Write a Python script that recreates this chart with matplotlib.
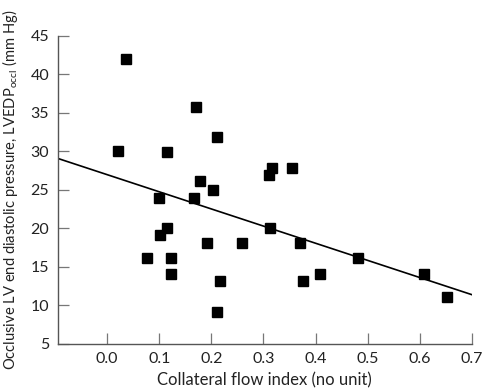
import numpy as np
import matplotlib
matplotlib.use("Agg")
import matplotlib.pyplot as plt

# collateral flow index vs occlusive LVEDP
cfi = [0.037, 0.020, 0.171, 0.210, 0.115, 0.316, 0.355, 0.311, 0.179, 0.204,
       0.166, 0.099, 0.114, 0.313, 0.102, 0.191, 0.258, 0.370, 0.077, 0.122,
       0.481, 0.122, 0.409, 0.608, 0.217, 0.376, 0.652, 0.210]
lvedp = [42.0, 30.0, 35.8, 31.9, 29.9, 27.9, 27.9, 26.9, 26.1, 25.0,
         24.0, 24.0, 20.1, 20.0, 19.1, 18.1, 18.1, 18.1, 16.1, 16.1,
         16.1, 14.1, 14.1, 14.1, 13.2, 13.2, 11.1, 9.1]

# regression line end points
line_x = [-0.095, 0.70]
line_y = [29.1, 11.4]

xticks = [0.0, 0.1, 0.2, 0.3, 0.4, 0.5, 0.6, 0.7]
yticks = [5, 10, 15, 20, 25, 30, 35, 40, 45]

plt.rcParams['font.family'] = ['Lato', 'DejaVu Sans']
plt.rcParams['mathtext.fontset'] = 'custom'
plt.rcParams['mathtext.rm'] = 'Lato'

fig = plt.figure(figsize=(4.84, 3.9), dpi=100)
ax = fig.add_axes([0.119, 0.118, 0.856, 0.790])

ax.plot(line_x, line_y, color='black', lw=1.2, zorder=2)
ax.plot(cfi, lvedp, 's', color='black', ms=6.5, zorder=3)

ax.set_xlim(-0.095, 0.70)
ax.set_ylim(5, 45)
ax.set_xticks(xticks)
ax.set_xticklabels(['%.1f' % t for t in xticks])
ax.set_yticks(yticks)

for s in ['top', 'right']:
    ax.spines[s].set_visible(False)
for s in ['left', 'bottom']:
    ax.spines[s].set_color('#555555')
    ax.spines[s].set_linewidth(1.0)

ax.tick_params(direction='in', length=8, width=0.9, color='#777777',
               labelsize=11.5, labelcolor='#222222', pad=6)

ax.set_xlabel('Collateral flow index (no unit)', fontsize=12, color='#222222', labelpad=4)
ax.set_ylabel('Occlusive LV end diastolic pressure, LVEDP$_{\\mathregular{occl}}$ (mm Hg)',
              fontsize=10.6, color='#222222')
ax.yaxis.set_label_coords(-0.09, 0.5)

fig.savefig('out.png', dpi=100)
